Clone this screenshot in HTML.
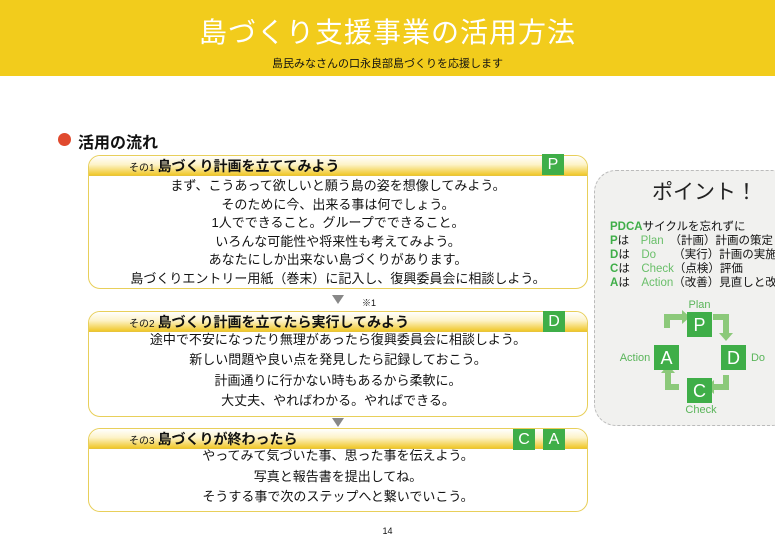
<!DOCTYPE html>
<html><head><meta charset="utf-8"><style>
*{margin:0;padding:0;box-sizing:border-box}
body{width:775px;height:552px;background:#fff;position:relative;overflow:hidden;font-family:"Liberation Sans","Noto Sans CJK JP",sans-serif;color:#111}
.ban{position:absolute;left:0;top:0;width:775px;height:76px;background:#f2cc1c}
.t{position:absolute;left:0;width:775px;text-align:center}
.box{position:absolute;left:88px;width:500px;border:1.5px solid #e8cf5a;border-radius:12px;background:#fff;overflow:hidden}
.hd{height:20px;background:linear-gradient(#fff 0%,#fdf3c8 45%,#f0c82a 100%);border-bottom:1.5px solid #e8c43a;font-weight:bold;font-size:14px;line-height:20px;padding-left:40px}
.hd small{font-size:10px;font-weight:normal;margin-right:3px}
.bd{text-align:center;font-size:13px}
.bg{position:absolute;width:22px;height:21px;background:#3fae48;color:#fff;font-size:16px;text-align:center;line-height:21px}
.tri{position:absolute;width:0;height:0;border-left:6px solid transparent;border-right:6px solid transparent;border-top:9px solid #888}
</style></head><body>
<div class="ban"></div>
<div class="t" style="top:11px;font-size:28px;color:#fff;letter-spacing:1px">島づくり支援事業の活用方法</div>
<div class="t" style="top:55px;font-size:11px">島民みなさんの口永良部島づくりを応援します</div>
<div style="position:absolute;left:58px;top:133px;width:13px;height:13px;border-radius:50%;background:#e04a2e"></div>
<div style="position:absolute;left:78px;top:129px;font-size:16px;font-weight:bold">活用の流れ</div>

<div class="box" style="top:155px;height:134px"><div class="hd"><small>その1</small>島づくり計画を立ててみよう</div>
<div class="bd" style="line-height:18.6px;padding-top:1px">まず、こうあって欲しいと願う島の姿を想像してみよう。<br>そのために今、出来る事は何でしょう。<br>1人でできること。グループでできること。<br>いろんな可能性や将来性も考えてみよう。<br>あなたにしか出来ない島づくりがあります。<br>島づくりエントリー用紙（巻末）に記入し、復興委員会に相談しよう。</div></div>
<div class="bg" style="left:542px;top:154px">P</div>
<div class="tri" style="left:332px;top:295px"></div>
<div style="position:absolute;left:362px;top:296px;font-size:9px">※1</div>

<div class="box" style="top:311px;height:106px"><div class="hd"><small>その2</small>島づくり計画を立てたら実行してみよう</div>
<div class="bd" style="line-height:20.4px;margin-top:-2px">途中で不安になったり無理があったら復興委員会に相談しよう。<br>新しい問題や良い点を発見したら記録しておこう。<br>計画通りに行かない時もあるから柔軟に。<br>大丈夫、やればわかる。やればできる。</div></div>
<div class="bg" style="left:543px;top:311px">D</div>
<div class="tri" style="left:332px;top:418px"></div>

<div class="box" style="top:428px;height:84px"><div class="hd"><small>その3</small>島づくりが終わったら</div>
<div class="bd" style="line-height:20.5px;margin-top:-3px">やってみて気づいた事、思った事を伝えよう。<br>写真と報告書を提出してね。<br>そうする事で次のステップへと繋いでいこう。</div></div>
<div class="bg" style="left:513px;top:429px">C</div>
<div class="bg" style="left:543px;top:429px">A</div>

<div style="position:absolute;left:594px;top:170px;width:200px;height:256px;border:1px dashed #bbb;border-radius:22px;background:#f1f1ef"></div>
<div style="position:absolute;left:652px;top:176px;font-size:21px;color:#222">ポイント！</div>
<div style="position:absolute;left:610px;top:220px;font-size:11.5px;line-height:14px;white-space:nowrap">
<span style="color:#3fae48;font-weight:bold">PDCA</span>サイクルを忘れずに<br>
<b style="color:#3fae48">P</b>は　<span style="color:#6abf6a">Plan</span>　（計画）計画の策定<br>
<b style="color:#3fae48">D</b>は　<span style="color:#6abf6a">Do</span>　　（実行）計画の実施<br>
<b style="color:#3fae48">C</b>は　<span style="color:#6abf6a">Check</span>（点検）評価<br>
<b style="color:#3fae48">A</b>は　<span style="color:#6abf6a">Action</span>（改善）見直しと改善</div>
<svg style="position:absolute;left:590px;top:295px" width="185" height="125">
<g fill="none" stroke="#8cc97a" stroke-width="6">
<path d="M77 33 V22 H92"/><path d="M123 22 H136 V38"/><path d="M136 80 V92 H124"/><path d="M89 92 H78 V78"/>
</g>
<g fill="#8cc97a"><path d="M92 15 L100 22 L92 29Z"/><path d="M129 38 L136 46 L143 38Z"/><path d="M124 85 L116 92 L124 99Z"/><path d="M71 78 L78 70 L85 78Z"/></g>
<g fill="#3fae48"><rect x="97" y="17" width="25" height="25"/><rect x="64" y="50" width="25" height="25"/><rect x="131" y="50" width="25" height="25"/><rect x="97" y="83" width="25" height="25"/></g>
<g fill="#fff" font-size="18" text-anchor="middle" font-family="Liberation Sans,sans-serif"><text x="109.5" y="36">P</text><text x="76.5" y="69">A</text><text x="143.5" y="69">D</text><text x="109.5" y="102">C</text></g>
<g fill="#5ab55a" font-size="11" text-anchor="middle" font-family="Liberation Sans,sans-serif"><text x="109.5" y="13">Plan</text><text x="45" y="66">Action</text><text x="168" y="66">Do</text><text x="111" y="118">Check</text></g>
</svg>
<div class="t" style="top:526px;font-size:9px;left:0">14</div>
</body></html>
